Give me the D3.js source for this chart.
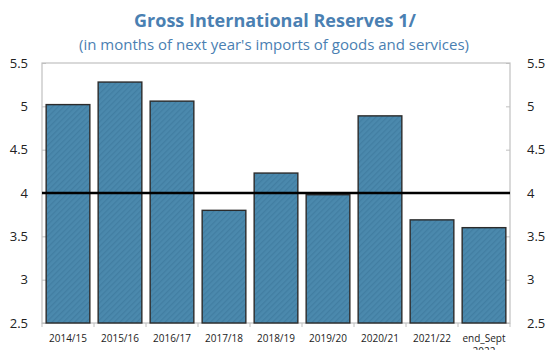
<!DOCTYPE html>
<html>
<head>
<meta charset="utf-8">
<script src="https://cdn.jsdelivr.net/npm/d3@7"></script>
<style>
  html, body { margin: 0; padding: 0; background: #fff; }
  svg { display: block; font-family: "Open Sans", "Noto Sans", sans-serif; }
</style>
</head>
<body>
<svg id="chart" width="547" height="350"></svg>
<script>
// Gross international reserves, months of next year's imports
const categories = ["2014/15", "2015/16", "2016/17", "2017/18", "2018/19", "2019/20", "2020/21", "2021/22", "end_Sept\n2022"];
const reserves = [5.02, 5.28, 5.06, 3.80, 4.23, 3.98, 4.89, 3.69, 3.60];
const threshold = 4;
const yTicks = [2.5, 3, 3.5, 4, 4.5, 5, 5.5];
const titleText = "Gross International Reserves 1/";
const subtitleText = "(in months of next year's imports of goods and services)";

const svg = d3.select("#chart");
const W = 547, H = 350;
const plot = { left: 42, right: 510, top: 63, bottom: 323 };

const x = d3.scaleBand()
  .domain(categories)
  .range([plot.left, plot.right])
  .paddingInner(0.16)
  .paddingOuter(0.08);

const y = d3.scaleLinear().domain([2.5, 5.5]).range([plot.bottom, plot.top]);

// hatch fill for bars
const defs = svg.append("defs");
const pat = defs.append("pattern")
  .attr("id", "hatch")
  .attr("patternUnits", "userSpaceOnUse")
  .attr("width", 4).attr("height", 4)
  .attr("patternTransform", "rotate(-45)");
pat.append("rect").attr("width", 4).attr("height", 4).attr("fill", "#4b89ad");
pat.append("rect").attr("width", 4).attr("height", 1.3).attr("fill", "#427ea2");

// titles
svg.append("text")
  .attr("x", 275).attr("y", 27)
  .attr("text-anchor", "middle")
  .attr("fill", "#4a80b2")
  .attr("font-size", 18).attr("font-weight", "bold")
  .text(titleText);
svg.append("text")
  .attr("x", 274).attr("y", 50)
  .attr("text-anchor", "middle")
  .attr("fill", "#4a80b2")
  .attr("font-size", 15)
  .text(subtitleText);

// plot frame
svg.append("rect")
  .attr("x", plot.left).attr("y", plot.top)
  .attr("width", plot.right - plot.left).attr("height", plot.bottom - plot.top)
  .attr("fill", "none").attr("stroke", "#c0c0c0").attr("stroke-width", 1.2);

// left and right axes with inward ticks
const leftAxis = d3.axisLeft(y).tickValues(yTicks).tickSize(-4).tickPadding(14)
  .tickFormat(d3.format("~g"));
const gl = svg.append("g").attr("transform", `translate(${plot.left},0)`).call(leftAxis);
const rightAxis = d3.axisRight(y).tickValues(yTicks).tickSize(-4).tickPadding(17)
  .tickFormat(d3.format("~g"));
const gr = svg.append("g").attr("transform", `translate(${plot.right},0)`).call(rightAxis);
[gl, gr].forEach(g => {
  g.select(".domain").remove();
  g.selectAll(".tick line").attr("stroke", "#c0c0c0");
  g.selectAll(".tick text").attr("font-size", 13).attr("fill", "#222")
    .attr("font-family", "'Open Sans', 'Noto Sans', sans-serif");
});

// bottom axis: ticks at band boundaries, labels centred in bands
const step = x.step();
const bounds = categories.map((c, i) => plot.left + i * step).concat([plot.right]);
svg.append("g").selectAll("line").data(bounds).join("line")
  .attr("x1", d => d).attr("x2", d => d)
  .attr("y1", plot.bottom).attr("y2", plot.bottom + 4)
  .attr("stroke", "#c0c0c0");

// bars
svg.append("g").selectAll("rect").data(reserves).join("rect")
  .attr("x", (d, i) => x(categories[i]))
  .attr("y", d => y(d))
  .attr("width", x.bandwidth())
  .attr("height", d => y(2.5) - y(d))
  .attr("fill", "url(#hatch)")
  .attr("stroke", "#2b2b2b")
  .attr("stroke-width", 1.4);

// reference line at 4 months
svg.append("line")
  .attr("x1", plot.left).attr("x2", plot.right)
  .attr("y1", y(threshold)).attr("y2", y(threshold))
  .attr("stroke", "#000").attr("stroke-width", 2.5);

// category labels
const labels = svg.append("g").selectAll("text").data(categories).join("text")
  .attr("x", d => x(d) + x.bandwidth() / 2)
  .attr("y", 342)
  .attr("text-anchor", "middle")
  .attr("font-size", 10)
  .attr("fill", "#222");
labels.each(function(d) {
  const parts = d.split("\n");
  d3.select(this).selectAll("tspan").data(parts).join("tspan")
    .attr("x", x(d) + x.bandwidth() / 2)
    .attr("dy", (p, i) => i === 0 ? 0 : 13)
    .text(p => p);
});
</script>
</body>
</html>
